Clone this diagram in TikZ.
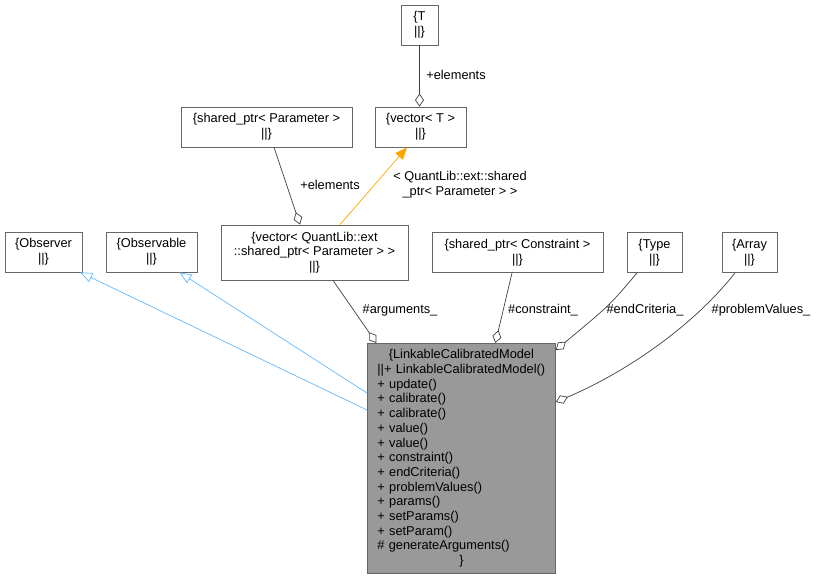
\documentclass[tikz,border=0pt]{standalone}
\usepackage{fontspec}
\setmainfont{Liberation Sans}
\usetikzlibrary{arrows.meta}
\definecolor{boxline}{HTML}{666666}
\definecolor{mainfill}{HTML}{999999}
\definecolor{usageline}{HTML}{404040}
\definecolor{inheritline}{HTML}{63B8FF}
\definecolor{templline}{HTML}{FFA500}

\tikzset{
  classbox/.style={draw=boxline,fill=white,line width=0.8pt,align=center,inner sep=2pt},
  usage/.style={draw=usageline,line width=0.7pt,-{Diamond[open,length=13pt,width=9pt]}},
  inherit/.style={draw=inheritline,line width=0.7pt,-{Triangle[open,length=12pt,width=10pt]}},
  templ/.style={draw=templline,line width=0.7pt,-{Triangle[length=12pt,width=10pt,fill=templline]}},
  elabel/.style={inner sep=0pt,align=center}
}

\begin{document}
\begin{tikzpicture}[x=1pt,y=-1pt,font=\fontsize{12.8}{14.7}\selectfont]
  \useasboundingbox (0,0) rectangle (819,579);

  % class boxes
  \node[classbox,minimum width=37pt,minimum height=40pt] (T) at (419.5,25) {\{T\\||\}};
  \node[classbox,minimum width=91pt,minimum height=40pt] (vecT) at (420.5,127) {\{vector< T >\\||\}};
  \node[classbox,minimum width=171pt,minimum height=40pt] (spParam) at (266.5,127) {\{shared\_ptr< Parameter >\\||\}};
  \node[classbox,minimum width=187pt,minimum height=55pt] (vecQL) at (314.5,252.5) {\{vector< QuantLib::ext\\::shared\_ptr< Parameter > >\\||\}};
  \node[classbox,minimum width=77pt,minimum height=40pt] (observer) at (43.5,252) {\{Observer\\||\}};
  \node[classbox,minimum width=91pt,minimum height=40pt] (observable) at (151.5,252) {\{Observable\\||\}};
  \node[classbox,minimum width=171pt,minimum height=40pt] (spCons) at (517.5,252.5) {\{shared\_ptr< Constraint >\\||\}};
  \node[classbox,minimum width=55pt,minimum height=40pt] (type) at (654.5,252.5) {\{Type\\||\}};
  \node[classbox,minimum width=55pt,minimum height=40pt] (array) at (749.5,252.5) {\{Array\\||\}};

  \node[classbox,fill=mainfill,anchor=north west,align=left,text width=168pt,inner xsep=10pt,minimum height=230pt] (main) at (367,343) {%
    {\centering\{LinkableCalibratedModel\par}
    ||+ LinkableCalibratedModel()\\
    + update()\\
    + calibrate()\\
    + calibrate()\\
    + value()\\
    + value()\\
    + constraint()\\
    + endCriteria()\\
    + problemValues()\\
    + params()\\
    + setParams()\\
    + setParam()\\
    \# generateArguments()\par
    {\centering\}\par}};

  % members
  \draw[usage] (T.south) -- (T.south |- vecT.north);
  \draw[usage] ([xshift=7.5pt]spParam.south) -- ([xshift=-14.5pt]vecQL.north);
  \draw[templ] ([xshift=25.5pt]vecQL.north) -- ([xshift=-13.5pt]vecT.south);
  \draw[usage] ([xshift=18.5pt]vecQL.south) -- ([xshift=-85pt]main.north);
  \draw[usage] ([xshift=-5.5pt]spCons.south) -- ([xshift=34pt]main.north);
  \draw[usage] ([xshift=-17.5pt]type.south) .. controls (610,305) .. ([yshift=-7pt]main.north east);
  \draw[usage] ([xshift=-14.5pt]array.south) .. controls (690,330) and (620,375) .. ([yshift=-59pt]main.north east);

  % base classes
  \draw[inherit] ([yshift=-67pt]main.north west) -- ([xshift=-2pt]observer.south east);
  \draw[inherit] ([yshift=-50pt]main.north west) -- ([xshift=28pt]observable.south);

  % labels
  \node[elabel] (lblT) at (456,75) {+elements};
  \node[elabel] (lblP) at (330,185) {+elements};
  \node[elabel] (lblQL) at (460,185) {< QuantLib::ext::shared\\\_ptr< Parameter > >};
  \node[elabel] (lblArg) at (400,310) {\#arguments\_};
  \node[elabel] (lblCons) at (543,310) {\#constraint\_};
  \node[elabel] (lblEnd) at (645,310) {\#endCriteria\_};
  \node[elabel] (lblProb) at (761,310) {\#problemValues\_};
\end{tikzpicture}
\end{document}
